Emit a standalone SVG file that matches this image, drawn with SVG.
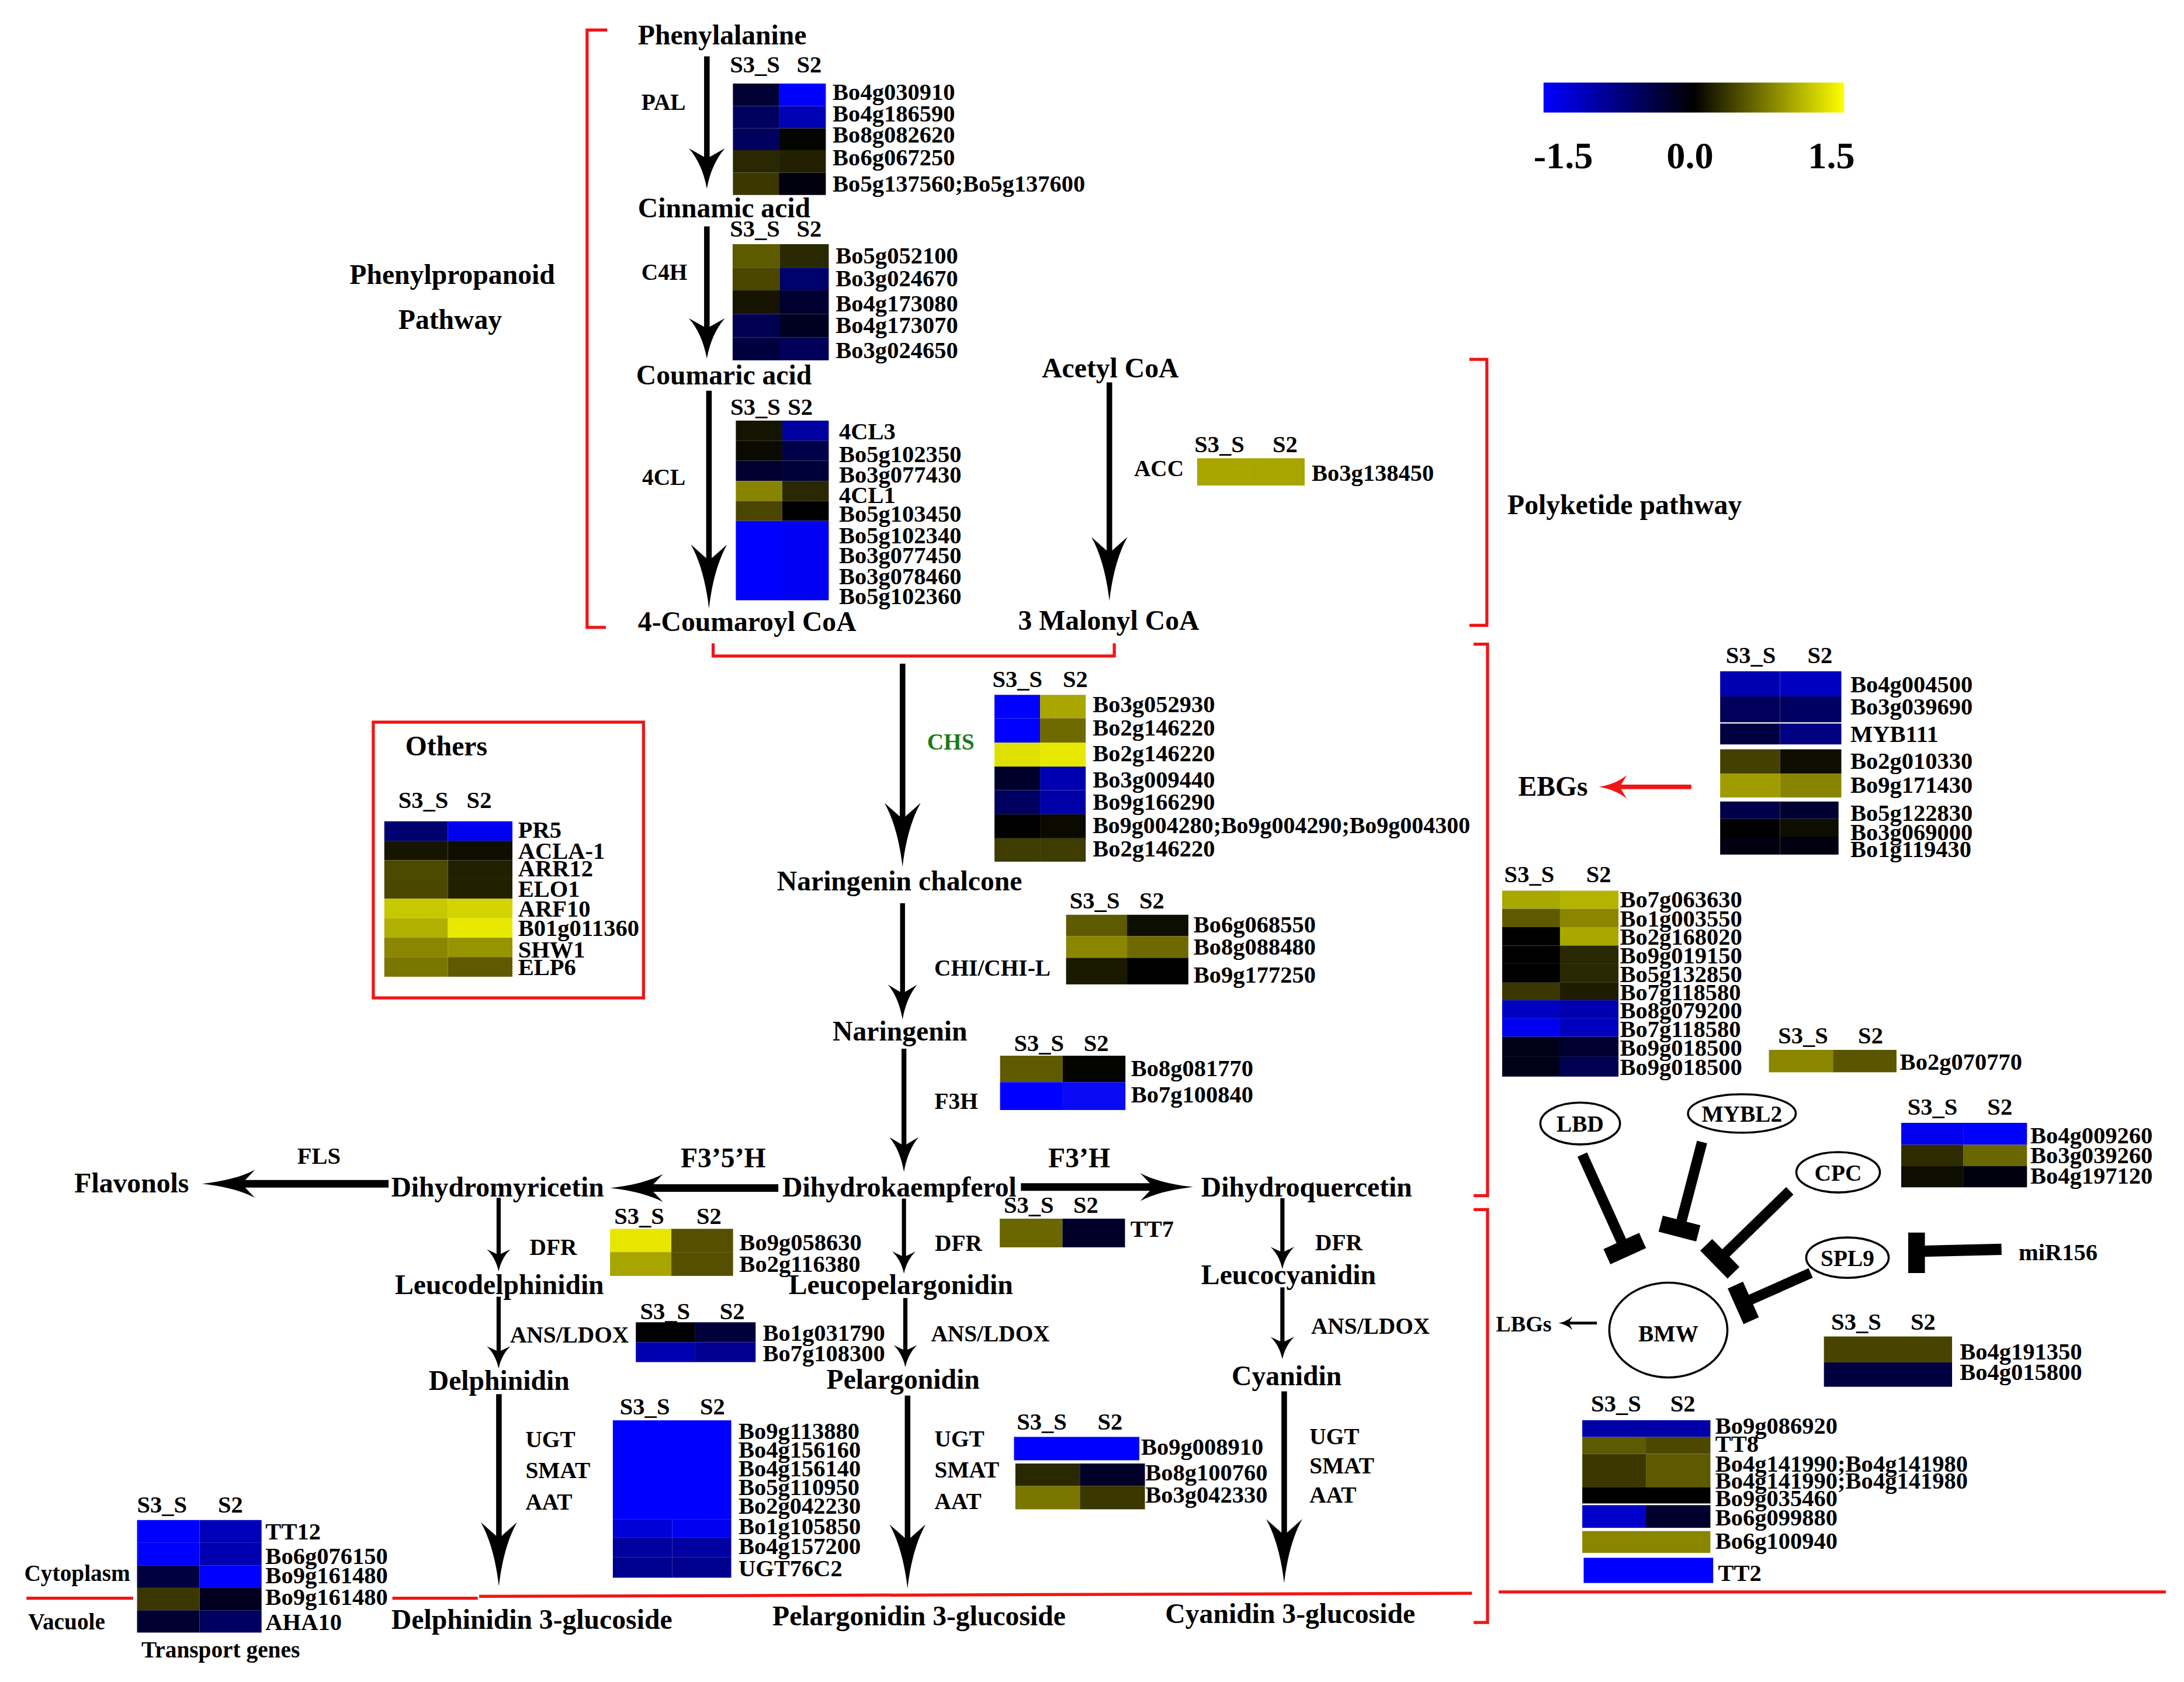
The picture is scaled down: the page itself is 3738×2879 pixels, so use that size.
<svg xmlns="http://www.w3.org/2000/svg" width="3738" height="2879" viewBox="0 0 3738 2879">
<defs>
<style>
.t{font-family:"Liberation Serif","Times New Roman",serif;font-weight:bold;fill:#000}
.cp{font-size:20px}
.gl{font-size:17px}
.en{font-size:16.5px}
.hd{font-size:17px}
.lg{font-size:27px}
.red{stroke:#f01515;stroke-width:2.2;fill:none}
.ar{stroke:#000;fill:none}
.el{stroke:#000;stroke-width:1.5;fill:#fff}
.tb{stroke:#000;fill:none}
</style>
<linearGradient id="lgd" x1="0" y1="0" x2="1" y2="0"><stop offset="0" stop-color="#0000ff"/><stop offset="0.5" stop-color="#000000"/><stop offset="1" stop-color="#ffff00"/></linearGradient>
<marker id="mBig" markerUnits="userSpaceOnUse" markerWidth="46" markerHeight="26" viewBox="0 0 46 26" refX="11.5" refY="13" orient="auto"><path d="M46,13 C27.6,10.92 11.5,6.5 0,0 L11.5,13 L0,26 C11.5,19.5 27.6,15.08 46,13 Z" fill="#000"/></marker>
<marker id="mMed" markerUnits="userSpaceOnUse" markerWidth="29" markerHeight="26" viewBox="0 0 29 26" refX="7.25" refY="13" orient="auto"><path d="M29,13 C17.4,10.92 7.25,6.5 0,0 L7.25,13 L0,26 C7.25,19.5 17.4,15.08 29,13 Z" fill="#000"/></marker>
<marker id="mChi" markerUnits="userSpaceOnUse" markerWidth="25" markerHeight="21" viewBox="0 0 25 21" refX="6.25" refY="10.5" orient="auto"><path d="M25,10.5 C15,8.82 6.25,5.25 0,0 L6.25,10.5 L0,21 C6.25,15.75 15,12.18 25,10.5 Z" fill="#000"/></marker>
<marker id="mSm" markerUnits="userSpaceOnUse" markerWidth="16" markerHeight="17" viewBox="0 0 16 17" refX="4" refY="8.5" orient="auto"><path d="M16,8.5 C9.6,7.14 4,4.25 0,0 L4,8.5 L0,17 C4,12.75 9.6,9.86 16,8.5 Z" fill="#000"/></marker>
<marker id="mH" markerUnits="userSpaceOnUse" markerWidth="38" markerHeight="20" viewBox="0 0 38 20" refX="9.5" refY="10" orient="auto"><path d="M38,10 C22.8,8.4 9.5,5 0,0 L9.5,10 L0,20 C9.5,15 22.8,11.6 38,10 Z" fill="#000"/></marker>
<marker id="mRed" markerUnits="userSpaceOnUse" markerWidth="20" markerHeight="17" viewBox="0 0 20 17" refX="5" refY="8.5" orient="auto"><path d="M20,8.5 C12,7.14 5,4.25 0,0 L5,8.5 L0,17 C5,12.75 12,9.86 20,8.5 Z" fill="#f01515"/></marker>
<marker id="mTiny" markerUnits="userSpaceOnUse" markerWidth="10" markerHeight="10" viewBox="0 0 10 10" refX="2.5" refY="5" orient="auto"><path d="M10,5 C6,4.2 2.5,2.5 0,0 L2.5,5 L0,10 C2.5,7.5 6,5.8 10,5 Z" fill="#000"/></marker>
</defs>
<rect x="0" y="0" width="3738" height="2879" fill="#ffffff"/>
<g transform="scale(2.3839)">

<g id="brackets">
<path class="red" d="M436,21.5 H421.5 V450.5 H435"/>
<path class="red" d="M512,462 V471 H800 V462"/>
<path class="red" d="M1055,258 H1067.5 V449 H1055"/>
<path class="red" d="M1058,462.5 H1068 V858.5 H1058"/>
<path class="red" d="M1058,868.5 H1068 V1165 H1058"/>
<path class="red" d="M19,1147.5 H95.6 M281.7,1147.5 H343 M344,1146.2 L1056.8,1144 M1076,1143 H1555"/>
<rect class="red" x="268" y="518.5" width="194" height="198"/>
</g>

<g id="connectors">
<line class="ar" stroke-width="4" x1="507.5" y1="40.5" x2="507.5" y2="113.75" marker-end="url(#mMed)"/>
<line class="ar" stroke-width="4" x1="507.5" y1="162.5" x2="507.5" y2="235.75" marker-end="url(#mMed)"/>
<line class="ar" stroke-width="4" x1="509" y1="280.5" x2="509" y2="402.5" marker-end="url(#mBig)"/>
<line class="ar" stroke-width="4" x1="796.5" y1="274.5" x2="796.5" y2="397" marker-end="url(#mBig)"/>
<line class="ar" stroke-width="4" x1="648" y1="476.5" x2="648" y2="588" marker-end="url(#mBig)"/>
<line class="ar" stroke-width="3.5" x1="648" y1="648.5" x2="648" y2="713.25" marker-end="url(#mChi)"/>
<line class="ar" stroke-width="3.5" x1="649" y1="753" x2="649" y2="822.75" marker-end="url(#mChi)"/>
<line class="ar" stroke-width="5.5" x1="279" y1="850" x2="173.5" y2="850" marker-end="url(#mH)"/>
<line class="ar" stroke-width="5.5" x1="558.8" y1="853" x2="466.5" y2="853" marker-end="url(#mH)"/>
<line class="ar" stroke-width="5.5" x1="733" y1="852.3" x2="828.1" y2="852.3" marker-end="url(#mH)"/>
<line class="ar" stroke-width="3" x1="358" y1="860" x2="358" y2="901" marker-end="url(#mSm)"/>
<line class="ar" stroke-width="3" x1="649" y1="860.6" x2="649" y2="902.5" marker-end="url(#mSm)"/>
<line class="ar" stroke-width="3" x1="920.7" y1="860.3" x2="920.7" y2="899.3" marker-end="url(#mSm)"/>
<line class="ar" stroke-width="3" x1="358" y1="931" x2="358" y2="970.6" marker-end="url(#mSm)"/>
<line class="ar" stroke-width="3" x1="650" y1="932" x2="650" y2="969.8" marker-end="url(#mSm)"/>
<line class="ar" stroke-width="3" x1="920.7" y1="924.3" x2="920.7" y2="963.9" marker-end="url(#mSm)"/>
<line class="ar" stroke-width="4" x1="358.2" y1="1001" x2="358.2" y2="1104.5" marker-end="url(#mBig)"/>
<line class="ar" stroke-width="4" x1="651.6" y1="1002" x2="651.6" y2="1106" marker-end="url(#mBig)"/>
<line class="ar" stroke-width="4" x1="922" y1="999" x2="922" y2="1102.2" marker-end="url(#mBig)"/>
<line stroke="#f01515" stroke-width="3.2" x1="1214.3" y1="565" x2="1163" y2="565" marker-end="url(#mRed)"/>
<line class="ar" stroke-width="2" x1="1146.5" y1="950" x2="1126.5" y2="950" marker-end="url(#mTiny)"/>
<line class="tb" stroke-width="7.5" x1="1136" y1="829" x2="1166.5" y2="896.5"/>
<line class="tb" stroke-width="12" x1="1153.7" y1="902.3" x2="1179.3" y2="890.7"/>
<line class="tb" stroke-width="7.5" x1="1222" y1="820" x2="1205.8" y2="882.1"/>
<line class="tb" stroke-width="12" x1="1192.3" y1="878.6" x2="1219.3" y2="885.6"/>
<line class="tb" stroke-width="7.5" x1="1285" y1="855" x2="1234.8" y2="903.8"/>
<line class="tb" stroke-width="12" x1="1225" y1="893.8" x2="1244.6" y2="913.8"/>
<line class="tb" stroke-width="7.5" x1="1300" y1="914" x2="1251.6" y2="935.5"/>
<line class="tb" stroke-width="12" x1="1245.9" y1="922.7" x2="1257.3" y2="948.3"/>
<line class="tb" stroke-width="8" x1="1437" y1="897" x2="1376" y2="898.5"/>
<line class="tb" stroke-width="12" x1="1376" y1="885" x2="1376" y2="914"/>
</g>

<g id="titles">
<text class="t cp" x="251" y="204">Phenylpropanoid</text>
<text class="t cp" x="286" y="236">Pathway</text>
<text class="t cp" x="1082.3" y="369">Polyketide pathway</text>
<text class="t cp" x="1090" y="571.5">EBGs</text>
<text class="t" font-size="16" x="1074" y="956">LBGs</text>
<text class="t gl" x="1449.3" y="905">miR156</text>
<text class="t en" x="17.4" y="1135">Cytoplasm</text>
<text class="t en" x="20.2" y="1170">Vacuole</text>
<text class="t en" x="101.5" y="1190">Transport genes</text>
</g>

<g id="legend">
<rect x="1108.2" y="59.3" width="215.8" height="21.5" fill="url(#lgd)"/>
<text class="t lg" x="1101" y="121">-1.5</text>
<text class="t lg" x="1196.5" y="121">0.0</text>
<text class="t lg" x="1298" y="121">1.5</text>
</g>

<g id="compounds">
<text id="n-phe" class="t cp" x="458" y="31.7">Phenylalanine</text>
<text id="n-cin" class="t cp" x="458" y="156">Cinnamic acid</text>
<text id="n-cou" class="t cp" x="456.7" y="276">Coumaric acid</text>
<text id="n-4cc" class="t cp" x="458" y="453">4-Coumaroyl CoA</text>
<text id="n-ace" class="t cp" x="748" y="271">Acetyl CoA</text>
<text id="n-mal" class="t cp" x="731" y="452">3 Malonyl CoA</text>
<text id="n-nch" class="t cp" x="557.8" y="639.5">Naringenin chalcone</text>
<text id="n-nar" class="t cp" x="597.8" y="747">Naringenin</text>
<text id="n-fla" class="t cp" x="53.4" y="856">Flavonols</text>
<text id="n-dhm" class="t cp" x="280.8" y="859">Dihydromyricetin</text>
<text id="n-dhk" class="t cp" x="561.7" y="859">Dihydrokaempferol</text>
<text id="n-dhq" class="t cp" x="862.4" y="859">Dihydroquercetin</text>
<text id="n-led" class="t cp" x="283.6" y="929">Leucodelphinidin</text>
<text id="n-lep" class="t cp" x="566.2" y="929">Leucopelargonidin</text>
<text id="n-lec" class="t cp" x="862.4" y="922">Leucocyanidin</text>
<text id="n-del" class="t cp" x="307.8" y="998">Delphinidin</text>
<text id="n-pel" class="t cp" x="593.4" y="997">Pelargonidin</text>
<text id="n-cya" class="t cp" x="884.3" y="994.5">Cyanidin</text>
<text id="n-d3g" class="t cp" x="281" y="1169.5">Delphinidin 3-glucoside</text>
<text id="n-p3g" class="t cp" x="554.6" y="1167">Pelargonidin 3-glucoside</text>
<text id="n-c3g" class="t cp" x="836.6" y="1165.5">Cyanidin 3-glucoside</text>
</g>

<g id="enzymes">
<text class="t en" x="460.5" y="79">PAL</text>
<text class="t en" x="460.5" y="201">C4H</text>
<text class="t en" x="461" y="348">4CL</text>
<text class="t en" x="814.2" y="342">ACC</text>
<text class="t en" x="665.6" y="538" fill="#1b7a1b" style="fill:#1b7a1b">CHS</text>
<text class="t en" x="670.8" y="700.5">CHI/CHI-L</text>
<text class="t en" x="671" y="796">F3H</text>
<text class="t gl" x="213.4" y="835.5">FLS</text>
<text class="t cp" x="488.7" y="838">F3&#8217;5&#8217;H</text>
<text class="t cp" x="752.6" y="838">F3&#8217;H</text>
<text class="t en" x="380.3" y="901">DFR</text>
<text class="t en" x="671.2" y="898">DFR</text>
<text class="t en" x="944.3" y="897.5">DFR</text>
<text class="t en" x="366.2" y="964">ANS/LDOX</text>
<text class="t en" x="668.4" y="963">ANS/LDOX</text>
<text class="t en" x="941.3" y="957.5">ANS/LDOX</text>
<text class="t en" x="377.3" y="1039">UGT</text>
<text class="t en" x="377.3" y="1061.5">SMAT</text>
<text class="t en" x="377.3" y="1084">AAT</text>
<text class="t en" x="671" y="1038.5">UGT</text>
<text class="t en" x="671" y="1061">SMAT</text>
<text class="t en" x="671" y="1083.5">AAT</text>
<text class="t en" x="940.2" y="1037">UGT</text>
<text class="t en" x="940.2" y="1058">SMAT</text>
<text class="t en" x="940.2" y="1078.8">AAT</text>
</g>

<g id="network">
<g id="n-lbd"><ellipse class="el" cx="1134.5" cy="806.7" rx="28.6" ry="15"/><text class="t en" x="1134.5" y="812.5" text-anchor="middle">LBD</text></g>
<g id="n-mybl2"><ellipse class="el" cx="1250.6" cy="799.5" rx="38.7" ry="13.8"/><text class="t en" x="1250.6" y="805.5" text-anchor="middle">MYBL2</text></g>
<g id="n-cpc"><ellipse class="el" cx="1319.7" cy="841.7" rx="30" ry="14.5"/><text class="t en" x="1319.7" y="847.7" text-anchor="middle">CPC</text></g>
<g id="n-spl9"><ellipse class="el" cx="1326.4" cy="903" rx="29.6" ry="14.5"/><text class="t en" x="1326.4" y="909" text-anchor="middle">SPL9</text></g>
<g id="n-bmw"><ellipse class="el" cx="1197.8" cy="955" rx="42.4" ry="34"/><text class="t en" x="1197.8" y="963" text-anchor="middle">BMW</text></g>
</g>

<g id="hm-pal">
<text class="t hd" x="524" y="52">S3_S</text><text class="t hd" x="572" y="52">S2</text>
<rect x="526.2" y="60" width="33" height="16.1" fill="#000033"/><rect x="559.2" y="60" width="33.7" height="16.1" fill="#0000ff"/>
<rect x="526.2" y="76.1" width="33" height="16" fill="#00005e"/><rect x="559.2" y="76.1" width="33.7" height="16" fill="#0000b4"/>
<rect x="526.2" y="92.1" width="33" height="15.7" fill="#00005e"/><rect x="559.2" y="92.1" width="33.7" height="15.7" fill="#050500"/>
<rect x="526.2" y="107.8" width="33" height="16.2" fill="#2a2800"/><rect x="559.2" y="107.8" width="33.7" height="16.2" fill="#222000"/>
<rect x="526.2" y="124" width="33" height="16" fill="#3a3800"/><rect x="559.2" y="124" width="33.7" height="16" fill="#00000e"/>
<text class="t gl" x="597.8" y="71.7">Bo4g030910</text>
<text class="t gl" x="597.8" y="87.3">Bo4g186590</text>
<text class="t gl" x="597.8" y="102.3">Bo8g082620</text>
<text class="t gl" x="597.8" y="118.7">Bo6g067250</text>
<text class="t gl" x="597.8" y="137.5">Bo5g137560;Bo5g137600</text>
</g>

<g id="hm-c4h">
<text class="t hd" x="524" y="170">S3_S</text><text class="t hd" x="572" y="170">S2</text>
<rect x="526" y="175.3" width="34" height="16.9" fill="#5e5a00"/><rect x="560" y="175.3" width="35" height="16.9" fill="#2a2800"/>
<rect x="526" y="192.2" width="34" height="16.3" fill="#4a4600"/><rect x="560" y="192.2" width="35" height="16.3" fill="#00006a"/>
<rect x="526" y="208.5" width="34" height="16.9" fill="#161400"/><rect x="560" y="208.5" width="35" height="16.9" fill="#000030"/>
<rect x="526" y="225.4" width="34" height="16.9" fill="#000050"/><rect x="560" y="225.4" width="35" height="16.9" fill="#000020"/>
<rect x="526" y="242.3" width="34" height="16.4" fill="#000040"/><rect x="560" y="242.3" width="35" height="16.4" fill="#00005a"/>
<text class="t gl" x="600" y="189.2">Bo5g052100</text>
<text class="t gl" x="600" y="205.7">Bo3g024670</text>
<text class="t gl" x="600" y="223.7">Bo4g173080</text>
<text class="t gl" x="600" y="239">Bo4g173070</text>
<text class="t gl" x="600" y="257">Bo3g024650</text>
</g>

<g id="hm-4cl">
<text class="t hd" x="524.4" y="298">S3_S</text><text class="t hd" x="565.6" y="298">S2</text>
<rect x="528.3" y="302" width="33.4" height="14.4" fill="#141400"/><rect x="561.7" y="302" width="33.3" height="14.4" fill="#0000a0"/>
<rect x="528.3" y="316.4" width="33.4" height="14.4" fill="#0a0a00"/><rect x="561.7" y="316.4" width="33.3" height="14.4" fill="#00004a"/>
<rect x="528.3" y="330.8" width="33.4" height="14.5" fill="#000030"/><rect x="561.7" y="330.8" width="33.3" height="14.5" fill="#000038"/>
<rect x="528.3" y="345.3" width="33.4" height="14.4" fill="#888400"/><rect x="561.7" y="345.3" width="33.3" height="14.4" fill="#2a2800"/>
<rect x="528.3" y="359.7" width="33.4" height="14.3" fill="#4a4600"/><rect x="561.7" y="359.7" width="33.3" height="14.3" fill="#000000"/>
<rect x="528.3" y="374" width="33.4" height="57" fill="#0000ff"/><rect x="561.7" y="374" width="33.3" height="57" fill="#0000f4"/>
<text class="t gl" x="602.4" y="315.4">4CL3</text>
<text class="t gl" x="602.4" y="331.7">Bo5g102350</text>
<text class="t gl" x="602.4" y="346.7">Bo3g077430</text>
<text class="t gl" x="602.4" y="361">4CL1</text>
<text class="t gl" x="602.4" y="374.5">Bo5g103450</text>
<text class="t gl" x="602.4" y="390.2">Bo5g102340</text>
<text class="t gl" x="602.4" y="404.5">Bo3g077450</text>
<text class="t gl" x="602.4" y="419.5">Bo3g078460</text>
<text class="t gl" x="602.4" y="433.7">Bo5g102360</text>
</g>

<g id="hm-acc">
<text class="t hd" x="857.5" y="324.5">S3_S</text><text class="t hd" x="913.6" y="324.5">S2</text>
<rect x="859.5" y="329" width="38.2" height="19.6" fill="#aaa600"/><rect x="897.7" y="329" width="39" height="19.6" fill="#a8a400"/>
<text class="t gl" x="941.7" y="345.3">Bo3g138450</text>
</g>

<g id="hm-chs">
<text class="t hd" x="712.5" y="493.5">S3_S</text><text class="t hd" x="763" y="493.5">S2</text>
<rect x="714" y="498.9" width="32.7" height="16.8" fill="#0000ff"/><rect x="746.7" y="498.9" width="32.8" height="16.8" fill="#aaa600"/>
<rect x="714" y="515.7" width="32.7" height="17.5" fill="#0000ff"/><rect x="746.7" y="515.7" width="32.8" height="17.5" fill="#6e6a00"/>
<rect x="714" y="533.2" width="32.7" height="17.2" fill="#e0e000"/><rect x="746.7" y="533.2" width="32.8" height="17.2" fill="#e8e800"/>
<rect x="714" y="550.4" width="32.7" height="16.9" fill="#00002a"/><rect x="746.7" y="550.4" width="32.8" height="16.9" fill="#0000b0"/>
<rect x="714" y="567.3" width="32.7" height="17.4" fill="#000060"/><rect x="746.7" y="567.3" width="32.8" height="17.4" fill="#0000a8"/>
<rect x="714" y="584.7" width="32.7" height="17.2" fill="#000000"/><rect x="746.7" y="584.7" width="32.8" height="17.2" fill="#0a0a00"/>
<rect x="714" y="601.9" width="32.7" height="16.8" fill="#3e3c00"/><rect x="746.7" y="601.9" width="32.8" height="16.8" fill="#3e3c00"/>
<text class="t gl" x="784.5" y="511.2">Bo3g052930</text>
<text class="t gl" x="784.5" y="528">Bo2g146220</text>
<text class="t gl" x="784.5" y="546.4">Bo2g146220</text>
<text class="t gl" x="784.5" y="565.5">Bo3g009440</text>
<text class="t gl" x="784.5" y="581.4">Bo9g166290</text>
<text class="t gl" x="784.5" y="598.2" textLength="271" lengthAdjust="spacingAndGlyphs">Bo9g004280;Bo9g004290;Bo9g004300</text>
<text class="t gl" x="784.5" y="615.1">Bo2g146220</text>
</g>

<g id="hm-chi">
<text class="t hd" x="768" y="652.5">S3_S</text><text class="t hd" x="818" y="652.5">S2</text>
<rect x="765.4" y="656.8" width="43.8" height="15.3" fill="#5e5a00"/><rect x="809.2" y="656.8" width="44" height="15.3" fill="#0e0e00"/>
<rect x="765.4" y="672.1" width="43.8" height="15.6" fill="#8a8600"/><rect x="809.2" y="672.1" width="44" height="15.6" fill="#6e6a00"/>
<rect x="765.4" y="687.7" width="43.8" height="19.1" fill="#1a1a00"/><rect x="809.2" y="687.7" width="44" height="19.1" fill="#000000"/>
<text class="t gl" x="856.9" y="669.3">Bo6g068550</text>
<text class="t gl" x="856.9" y="685.3">Bo8g088480</text>
<text class="t gl" x="856.9" y="705.5">Bo9g177250</text>
</g>

<g id="hm-f3h">
<text class="t hd" x="728" y="754.5">S3_S</text><text class="t hd" x="778" y="754.5">S2</text>
<rect x="718" y="758" width="45" height="19" fill="#5e5a00"/><rect x="763" y="758" width="45" height="19" fill="#050500"/>
<rect x="718" y="777" width="45" height="20" fill="#0000ff"/><rect x="763" y="777" width="45" height="20" fill="#0a0af5"/>
<text class="t gl" x="812" y="772.7">Bo8g081770</text>
<text class="t gl" x="812" y="791.7">Bo7g100840</text>
</g>

<g id="hm-tt7">
<text class="t hd" x="720.7" y="871">S3_S</text><text class="t hd" x="770.6" y="871">S2</text>
<rect x="717.8" y="875" width="45" height="20.6" fill="#6a6600"/><rect x="762.8" y="875" width="44.9" height="20.6" fill="#000028"/>
<text class="t gl" x="811.6" y="888">TT7</text>
</g>

<g id="hm-dfr">
<text class="t hd" x="441" y="879">S3_S</text><text class="t hd" x="500" y="879">S2</text>
<rect x="438" y="882.3" width="44" height="16.7" fill="#e6e600"/><rect x="482" y="882.3" width="44.3" height="16.7" fill="#555000"/>
<rect x="438" y="899" width="44" height="17.1" fill="#a8a400"/><rect x="482" y="899" width="44.3" height="17.1" fill="#555000"/>
<text class="t gl" x="530.8" y="897.8">Bo9g058630</text>
<text class="t gl" x="530.8" y="913.2">Bo2g116380</text>
</g>

<g id="hm-ans">
<text class="t hd" x="459.5" y="947">S3_S</text><text class="t hd" x="516.7" y="947">S2</text>
<rect x="456.5" y="949.4" width="42.3" height="14.3" fill="#000000"/><rect x="498.8" y="949.4" width="43.7" height="14.3" fill="#00003a"/>
<rect x="456.5" y="963.7" width="42.3" height="14.3" fill="#0000b0"/><rect x="498.8" y="963.7" width="43.7" height="14.3" fill="#000090"/>
<text class="t gl" x="547.6" y="962.7">Bo1g031790</text>
<text class="t gl" x="547.6" y="977.5">Bo7g108300</text>
</g>

<g id="hm-ugt1">
<text class="t hd" x="445" y="1015.5">S3_S</text><text class="t hd" x="502.5" y="1015.5">S2</text>
<rect x="440" y="1019.8" width="85" height="71.2" fill="#0000ff"/>
<rect x="440" y="1091" width="42.7" height="13" fill="#0000d8"/><rect x="482.7" y="1091" width="42.3" height="13" fill="#0000f0"/>
<rect x="440" y="1104" width="42.7" height="14" fill="#0000a0"/><rect x="482.7" y="1104" width="42.3" height="14" fill="#0000a2"/>
<rect x="440" y="1118" width="42.7" height="14.8" fill="#00008e"/><rect x="482.7" y="1118" width="42.3" height="14.8" fill="#00008e"/>
<text class="t gl" x="530.2" y="1033.2">Bo9g113880</text>
<text class="t gl" x="530.2" y="1046.7">Bo4g156160</text>
<text class="t gl" x="530.2" y="1060">Bo4g156140</text>
<text class="t gl" x="530.2" y="1073.5">Bo5g110950</text>
<text class="t gl" x="530.2" y="1087">Bo2g042230</text>
<text class="t gl" x="530.2" y="1101.4">Bo1g105850</text>
<text class="t gl" x="530.2" y="1115.7">Bo4g157200</text>
<text class="t gl" x="530.2" y="1131.8">UGT76C2</text>
</g>

<g id="hm-ugt2">
<text class="t hd" x="730" y="1026.5">S3_S</text><text class="t hd" x="788" y="1026.5">S2</text>
<rect x="728" y="1031.7" width="90" height="16.8" fill="#0000ff"/>
<rect x="729" y="1050.8" width="46.3" height="16.2" fill="#2a2800"/><rect x="775.3" y="1050.8" width="46.7" height="16.2" fill="#000028"/>
<rect x="729" y="1067" width="46.3" height="16.7" fill="#7a7600"/><rect x="775.3" y="1067" width="46.7" height="16.7" fill="#3a3800"/>
<text class="t gl" x="819.2" y="1044.7">Bo9g008910</text>
<text class="t gl" x="822.3" y="1063">Bo8g100760</text>
<text class="t gl" x="822.3" y="1079">Bo3g042330</text>
</g>

<g id="hm-transport">
<text class="t hd" x="98.4" y="1086">S3_S</text><text class="t hd" x="156.5" y="1086">S2</text>
<rect x="98.4" y="1091.4" width="44.9" height="16.1" fill="#0000ff"/><rect x="143.3" y="1091.4" width="44.5" height="16.1" fill="#0000b8"/>
<rect x="98.4" y="1107.5" width="44.9" height="16.4" fill="#0000ff"/><rect x="143.3" y="1107.5" width="44.5" height="16.4" fill="#0000b0"/>
<rect x="98.4" y="1123.9" width="44.9" height="16.2" fill="#000040"/><rect x="143.3" y="1123.9" width="44.5" height="16.2" fill="#0000ff"/>
<rect x="98.4" y="1140.1" width="44.9" height="16.1" fill="#3a3800"/><rect x="143.3" y="1140.1" width="44.5" height="16.1" fill="#00001e"/>
<rect x="98.4" y="1156.2" width="44.9" height="16" fill="#000030"/><rect x="143.3" y="1156.2" width="44.5" height="16" fill="#000060"/>
<text class="t gl" x="190.6" y="1105.2">TT12</text>
<text class="t gl" x="190.6" y="1123">Bo6g076150</text>
<text class="t gl" x="190.6" y="1136.9">Bo9g161480</text>
<text class="t gl" x="190.6" y="1152.4">Bo9g161480</text>
<text class="t gl" x="190.6" y="1170.2">AHA10</text>
</g>

<g id="hm-others">
<text class="t cp" x="291" y="542.5">Others</text>
<text class="t hd" x="286" y="580">S3_S</text><text class="t hd" x="335" y="580">S2</text>
<rect x="275.9" y="589.7" width="45.7" height="14" fill="#000070"/><rect x="321.6" y="589.7" width="46.3" height="14" fill="#0000ee"/>
<rect x="275.9" y="603.7" width="45.7" height="13.9" fill="#161600"/><rect x="321.6" y="603.7" width="46.3" height="13.9" fill="#0e0e00"/>
<rect x="275.9" y="617.6" width="45.7" height="13.7" fill="#4c4a00"/><rect x="321.6" y="617.6" width="46.3" height="13.7" fill="#222000"/>
<rect x="275.9" y="631.3" width="45.7" height="14" fill="#4a4800"/><rect x="321.6" y="631.3" width="46.3" height="14" fill="#222000"/>
<rect x="275.9" y="645.3" width="45.7" height="14" fill="#c8c800"/><rect x="321.6" y="645.3" width="46.3" height="14" fill="#d4d400"/>
<rect x="275.9" y="659.3" width="45.7" height="14" fill="#b0b000"/><rect x="321.6" y="659.3" width="46.3" height="14" fill="#e8e800"/>
<rect x="275.9" y="673.3" width="45.7" height="13.9" fill="#8a8600"/><rect x="321.6" y="673.3" width="46.3" height="13.9" fill="#989400"/>
<rect x="275.9" y="687.2" width="45.7" height="14.1" fill="#7a7600"/><rect x="321.6" y="687.2" width="46.3" height="14.1" fill="#5e5a00"/>
<text class="t gl" x="372" y="601.4">PR5</text>
<text class="t gl" x="372" y="616.7">ACLA-1</text>
<text class="t gl" x="372" y="629.3">ARR12</text>
<text class="t gl" x="372" y="644">ELO1</text>
<text class="t gl" x="372" y="658">ARF10</text>
<text class="t gl" x="372" y="671.9">B01g011360</text>
<text class="t gl" x="372" y="687.4">SHW1</text>
<text class="t gl" x="372" y="700">ELP6</text>
</g>

<g id="hm-ebg1">
<text class="t hd" x="1239" y="476">S3_S</text><text class="t hd" x="1297.7" y="476">S2</text>
<rect x="1235" y="482" width="43" height="18" fill="#0000b0"/><rect x="1278" y="482" width="44" height="18" fill="#0000c0"/>
<rect x="1235" y="500" width="43" height="18.6" fill="#00005a"/><rect x="1278" y="500" width="44" height="18.6" fill="#000060"/>
<rect x="1235" y="519.5" width="43" height="15" fill="#000040"/><rect x="1278" y="519.5" width="44" height="15" fill="#000080"/>
<rect x="1235" y="538" width="43" height="17.5" fill="#444000"/><rect x="1278" y="538" width="44" height="17.5" fill="#0e0e00"/>
<rect x="1235" y="555.5" width="43" height="17.1" fill="#a09c00"/><rect x="1278" y="555.5" width="44" height="17.1" fill="#888400"/>
<rect x="1235" y="575.5" width="43" height="12.5" fill="#00004a"/><rect x="1278" y="575.5" width="42" height="12.5" fill="#000030"/>
<rect x="1235" y="588" width="43" height="12.7" fill="#000000"/><rect x="1278" y="588" width="42" height="12.7" fill="#0e0e00"/>
<rect x="1235" y="600.7" width="43" height="12.9" fill="#000010"/><rect x="1278" y="600.7" width="42" height="12.9" fill="#000010"/>
<text class="t gl" x="1328.5" y="496.9">Bo4g004500</text>
<text class="t gl" x="1328.5" y="512.9">Bo3g039690</text>
<text class="t gl" x="1328.5" y="532.7">MYB111</text>
<text class="t gl" x="1328.5" y="552.1">Bo2g010330</text>
<text class="t gl" x="1328.5" y="569.1">Bo9g171430</text>
<text class="t gl" x="1328.5" y="589.5">Bo5g122830</text>
<text class="t gl" x="1328.5" y="603.4">Bo3g069000</text>
<text class="t gl" x="1328.5" y="615.2">Bo1g119430</text>
</g>

<g id="hm-ebg2">
<text class="t hd" x="1080" y="633.5">S3_S</text><text class="t hd" x="1138.8" y="633.5">S2</text>
<rect x="1078.5" y="639.5" width="41.5" height="13" fill="#a8a800"/><rect x="1120" y="639.5" width="42" height="13" fill="#b4b400"/>
<rect x="1078.5" y="652.5" width="41.5" height="13.2" fill="#5e5a00"/><rect x="1120" y="652.5" width="42" height="13.2" fill="#8a8600"/>
<rect x="1078.5" y="665.7" width="41.5" height="13.2" fill="#000000"/><rect x="1120" y="665.7" width="42" height="13.2" fill="#a8a800"/>
<rect x="1078.5" y="678.9" width="41.5" height="13.2" fill="#000000"/><rect x="1120" y="678.9" width="42" height="13.2" fill="#2a2800"/>
<rect x="1078.5" y="692.1" width="41.5" height="13.4" fill="#000000"/><rect x="1120" y="692.1" width="42" height="13.4" fill="#2a2800"/>
<rect x="1078.5" y="705.5" width="41.5" height="12.7" fill="#3a3800"/><rect x="1120" y="705.5" width="42" height="12.7" fill="#1e1c00"/>
<rect x="1078.5" y="718.2" width="41.5" height="13" fill="#0000c0"/><rect x="1120" y="718.2" width="42" height="13" fill="#0000b0"/>
<rect x="1078.5" y="731.2" width="41.5" height="13.2" fill="#0000f0"/><rect x="1120" y="731.2" width="42" height="13.2" fill="#0000c0"/>
<rect x="1078.5" y="744.4" width="41.5" height="14.4" fill="#000018"/><rect x="1120" y="744.4" width="42" height="14.4" fill="#000030"/>
<rect x="1078.5" y="758.8" width="41.5" height="14.2" fill="#000018"/><rect x="1120" y="758.8" width="42" height="14.2" fill="#000050"/>
<text class="t gl" x="1163" y="651.5">Bo7g063630</text>
<text class="t gl" x="1163" y="665.4">Bo1g003550</text>
<text class="t gl" x="1163" y="678.3">Bo2g168020</text>
<text class="t gl" x="1163" y="691.7">Bo9g019150</text>
<text class="t gl" x="1163" y="705">Bo5g132850</text>
<text class="t gl" x="1163" y="718.2">Bo7g118580</text>
<text class="t gl" x="1163" y="731.1">Bo8g079200</text>
<text class="t gl" x="1163" y="744.6">Bo7g118580</text>
<text class="t gl" x="1163" y="758.1">Bo9g018500</text>
<text class="t gl" x="1163" y="771.7">Bo9g018500</text>
</g>

<g id="hm-ebg3">
<text class="t hd" x="1276.6" y="749">S3_S</text><text class="t hd" x="1334" y="749">S2</text>
<rect x="1270" y="753.8" width="46" height="16.1" fill="#8a8600"/><rect x="1316" y="753.8" width="45.6" height="16.1" fill="#5a5600"/>
<text class="t gl" x="1364" y="768.1">Bo2g070770</text>
</g>

<g id="hm-lbg1">
<text class="t hd" x="1369.5" y="800.5">S3_S</text><text class="t hd" x="1426.8" y="800.5">S2</text>
<rect x="1365" y="806.2" width="44.5" height="15.7" fill="#0000ee"/><rect x="1409.5" y="806.2" width="45.8" height="15.7" fill="#0000ff"/>
<rect x="1365" y="821.9" width="44.5" height="15.4" fill="#2e2c00"/><rect x="1409.5" y="821.9" width="45.8" height="15.4" fill="#6a6600"/>
<rect x="1365" y="837.3" width="44.5" height="15.2" fill="#0e0e00"/><rect x="1409.5" y="837.3" width="45.8" height="15.2" fill="#00000e"/>
<text class="t gl" x="1457.7" y="820.9">Bo4g009260</text>
<text class="t gl" x="1457.7" y="835.3">Bo3g039260</text>
<text class="t gl" x="1457.7" y="849.7">Bo4g197120</text>
</g>

<g id="hm-lbg2">
<text class="t hd" x="1314.7" y="954.6">S3_S</text><text class="t hd" x="1371.7" y="954.6">S2</text>
<rect x="1309.5" y="959.6" width="92" height="18.6" fill="#484400"/>
<rect x="1309.5" y="978.2" width="92" height="17.5" fill="#000040"/>
<text class="t gl" x="1407" y="976.2">Bo4g191350</text>
<text class="t gl" x="1407" y="990.7">Bo4g015800</text>
</g>

<g id="hm-lbg3">
<text class="t hd" x="1142.3" y="1013.5">S3_S</text><text class="t hd" x="1199.2" y="1013.5">S2</text>
<rect x="1136" y="1019.7" width="92" height="12.1" fill="#0000a8"/>
<rect x="1136" y="1031.8" width="45.7" height="12.1" fill="#5e5a00"/><rect x="1181.7" y="1031.8" width="46.3" height="12.1" fill="#4c4800"/>
<rect x="1136" y="1043.9" width="45.7" height="24.1" fill="#3a3800"/><rect x="1181.7" y="1043.9" width="46.3" height="24.1" fill="#5e5a00"/>
<rect x="1136" y="1068" width="92" height="11.5" fill="#000000"/>
<rect x="1136" y="1080.7" width="45.7" height="16.3" fill="#0000c8"/><rect x="1181.7" y="1080.7" width="46.3" height="16.3" fill="#00002e"/>
<rect x="1136" y="1099.3" width="92" height="15.7" fill="#8a8600"/>
<rect x="1137" y="1118.5" width="93" height="18.1" fill="#0000ff"/>
<text class="t gl" x="1231.5" y="1029.3">Bo9g086920</text>
<text class="t gl" x="1231.5" y="1042.4">TT8</text>
<text class="t gl" x="1231.5" y="1056.7">Bo4g141990;Bo4g141980</text>
<text class="t gl" x="1231.5" y="1068.9">Bo4g141990;Bo4g141980</text>
<text class="t gl" x="1231.5" y="1081.4">Bo9g035460</text>
<text class="t gl" x="1231.5" y="1095.4">Bo6g099880</text>
<text class="t gl" x="1231.5" y="1112.2">Bo6g100940</text>
<text class="t gl" x="1233.5" y="1135.1">TT2</text>
</g>

</g>
</svg>
